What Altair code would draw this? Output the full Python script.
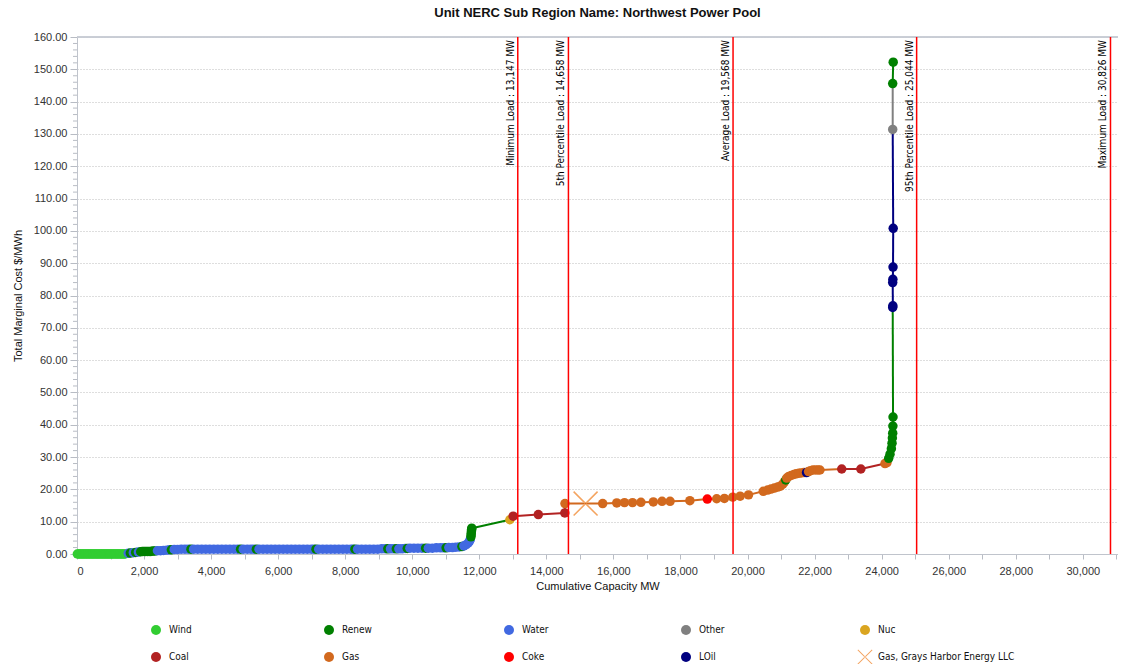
import altair as alt
import pandas as pd

TITLE = "Unit NERC Sub Region Name: Northwest Power Pool"
X_TITLE = "Cumulative Capacity MW"
Y_TITLE = "Total Marginal Cost $/MWh"

legend_names = ["Wind", "Renew", "Water", "Other", "Nuc",
                "Coal", "Gas", "Coke", "LOil", "Gas, Grays Harbor Energy LLC"]
legend_colors = ["#32CD32", "#008000", "#4169E1", "#808080", "#DAA520",
                 "#B22222", "#D2691E", "#FF0000", "#000080", "#F4A460"]
X_PATH = ("M-1.5,-1.37L-1.37,-1.5L1.5,1.37L1.37,1.5Z"
          "M1.5,-1.37L1.37,-1.5L-1.5,1.37L-1.37,1.5Z")
legend_shapes = ["circle"] * 9 + [X_PATH]

# ---- wind block ----
wind_mw = [10, 48, 85, 122, 160, 198, 235, 272, 310, 348,
           385, 422, 460, 498, 535, 572, 610, 648, 685, 722,
           760, 798, 835, 872, 910, 948, 985, 1022, 1060, 1098,
           1135, 1172, 1210, 1248, 1285, 1322, 1360, 1400, 1435]
wind_cost = [0.0] * len(wind_mw)
wind_fuel = ["Wind"] * len(wind_mw)

# ---- hydro / renewable block ----
hydro_fuel = ["Water", "Renew", "Water", "Renew", "Water", "Renew", "Renew", "Renew", "Renew", "Renew",
              "Renew", "Renew", "Renew", "Renew", "Water", "Water", "Water", "Water", "Water", "Renew",
              "Water", "Water", "Water", "Water", "Water", "Renew", "Water", "Water", "Water", "Water",
              "Water", "Water", "Water", "Water", "Water", "Water", "Water", "Water", "Renew", "Water",
              "Water", "Water", "Water", "Renew", "Water", "Water", "Water", "Water", "Water", "Water",
              "Water", "Water", "Water", "Water", "Water", "Water", "Water", "Water", "Water", "Renew",
              "Water", "Water", "Water", "Water", "Water", "Water", "Water", "Water", "Water", "Water",
              "Renew", "Water", "Water", "Water", "Water", "Water", "Water", "Water", "Water", "Renew",
              "Water", "Water", "Renew", "Water", "Water", "Water", "Renew", "Water", "Water", "Water",
              "Water", "Renew", "Water", "Water", "Water", "Water", "Water", "Renew", "Water", "Water",
              "Water", "Water", "Renew", "Water", "Water", "Water", "Water", "Water", "Renew", "Renew",
              "Renew", "Renew", "Renew", "Renew"]
hydro_mw = [1530, 1590, 1680, 1750, 1830, 1900, 1950, 2000, 2050, 2100,
            2150, 2200, 2260, 2320, 2400, 2490, 2580, 2680, 2760, 2815,
            2900, 3000, 3110, 3220, 3320, 3400, 3480, 3600, 3720, 3840,
            3960, 4080, 4200, 4320, 4440, 4560, 4680, 4790, 4880, 4960,
            5080, 5190, 5280, 5350, 5430, 5550, 5670, 5790, 5910, 6030,
            6150, 6270, 6390, 6510, 6630, 6750, 6870, 6990, 7070, 7130,
            7210, 7330, 7450, 7570, 7690, 7810, 7930, 8050, 8170, 8240,
            8290, 8370, 8490, 8610, 8730, 8850, 8970, 9090, 9200, 9270,
            9350, 9440, 9525, 9600, 9700, 9790, 9850, 9930, 10050, 10170,
            10290, 10400, 10480, 10600, 10720, 10840, 10940, 11010, 11090, 11200,
            11300, 11400, 11480, 11540, 11610, 11670, 11710, 11730, 11750, 11755,
            11760, 11765, 11770, 11775]
hydro_cost = [0.2, 0.3, 0.4, 0.5, 0.6, 0.7, 0.8, 0.8, 0.8, 0.8,
              0.8, 0.8, 0.9, 0.9, 1.0, 1.0, 1.1, 1.2, 1.3, 1.3,
              1.4, 1.4, 1.5, 1.5, 1.5, 1.5, 1.5, 1.5, 1.5, 1.5,
              1.5, 1.5, 1.5, 1.5, 1.5, 1.5, 1.5, 1.5, 1.5, 1.5,
              1.5, 1.5, 1.5, 1.5, 1.5, 1.5, 1.5, 1.5, 1.5, 1.5,
              1.5, 1.5, 1.5, 1.5, 1.5, 1.5, 1.5, 1.5, 1.5, 1.5,
              1.5, 1.5, 1.5, 1.5, 1.5, 1.5, 1.5, 1.5, 1.5, 1.5,
              1.5, 1.5, 1.5, 1.5, 1.5, 1.5, 1.5, 1.6, 1.6, 1.6,
              1.6, 1.6, 1.6, 1.6, 1.6, 1.7, 1.7, 1.8, 1.8, 1.8,
              1.8, 1.8, 1.8, 1.8, 1.9, 1.9, 1.9, 1.9, 2.0, 2.0,
              2.1, 2.2, 2.3, 2.5, 2.9, 3.4, 4.0, 4.5, 5.3, 5.9,
              6.5, 7.1, 7.6, 8.0]

# ---- thermal block ----
thermal_fuel = ["Nuc", "Coal", "Coal", "Coal", "Gas", "Gas", "Gas", "Gas", "Gas", "Gas",
                "Gas", "Gas", "Gas", "Gas", "Coke", "Gas", "Gas", "Gas", "Gas", "Gas",
                "Gas", "Gas", "Gas", "Gas", "Gas", "Gas", "Gas", "Gas", "Renew", "Gas",
                "Gas", "Gas", "Gas", "Gas", "Gas", "Gas", "Gas", "LOil", "Gas", "Gas",
                "Gas", "Gas", "Gas", "Gas", "Coal", "Coal", "Gas", "Gas"]
thermal_mw = [12910, 13010, 13760, 14550, 14555, 15680, 16100, 16330, 16570, 16820,
              17190, 17450, 17690, 18280, 18800, 19080, 19310, 19560, 19780, 20030,
              20470, 20600, 20700, 20800, 20900, 20980, 21050, 21100, 21140, 21170,
              21230, 21300, 21380, 21450, 21530, 21600, 21680, 21760, 21820, 21880,
              21950, 22030, 22100, 22160, 22810, 23380, 24100, 24160]
thermal_cost = [10.6, 11.7, 12.2, 12.7, 15.6, 15.6, 15.8, 15.9, 15.9, 16.0,
                16.1, 16.3, 16.3, 16.5, 17.0, 17.1, 17.2, 17.6, 17.9, 18.3,
                19.4, 19.8, 20.1, 20.4, 20.7, 21.0, 21.6, 22.3, 22.9, 23.5,
                24.0, 24.3, 24.6, 24.8, 25.0, 25.1, 25.2, 25.2, 25.5, 25.8,
                26.0, 26.0, 26.0, 26.0, 26.3, 26.3, 28.0, 28.3]

# ---- peaking block ----
peak_fuel = ["Renew", "Renew", "Renew", "Renew", "Renew", "Renew", "Renew", "Renew",
             "LOil", "LOil", "LOil", "LOil", "LOil", "LOil", "Other", "Renew", "Renew"]
peak_mw = [24210, 24250, 24290, 24310, 24320, 24330, 24335, 24340,
           24330, 24335, 24330, 24335, 24340, 24345, 24330, 24330, 24345]
peak_cost = [29.6, 30.9, 32.6, 34.3, 35.9, 37.4, 39.6, 42.4,
             76.3, 76.8, 84.0, 85.0, 88.8, 100.8, 131.4, 145.6, 152.2]

# ---- highlighted unit ----
grays_mw = [15170]
grays_cost = [15.6]

# ---- load reference lines ----
load_names = ["Minimum Load", "5th Percentile Load", "Average Load",
              "95th Percentile Load", "Maximum Load"]
load_mw = [13147, 14658, 19568, 25044, 30826]

# ---- axis ticks ----
y_major = [0, 10, 20, 30, 40, 50, 60, 70, 80, 90, 100, 110, 120, 130, 140, 150, 160]
y_minor = [v + d for v in y_major[:-1] for d in (2, 4, 6, 8)]
x_ticks = list(range(0, 31001, 1000))

fuel = wind_fuel + hydro_fuel + thermal_fuel + peak_fuel
mw = wind_mw + hydro_mw + thermal_mw + peak_mw
cost = wind_cost + hydro_cost + thermal_cost + peak_cost
assert len(fuel) == len(mw) == len(cost)

color_of = dict(zip(legend_names, legend_colors))
pts = pd.DataFrame({"mw": mw, "cost": cost, "fuel": fuel, "idx": range(len(mw))})
segs = pd.DataFrame({
    "mw": mw[:-1], "cost": cost[:-1], "mw2": mw[1:], "cost2": cost[1:],
    "col": [color_of[f] for f in fuel[:-1]],
})
grays = pd.DataFrame({"mw": grays_mw, "cost": grays_cost})
loads = pd.DataFrame({"mw": load_mw,
                      "label": [f"{n} : {v:,} MW" for n, v in zip(load_names, load_mw)]})
minor = pd.DataFrame({"cost": y_minor})

W, H = 1041, 517
FONT = "Liberation Sans"
COND = "DejaVu Sans Condensed, Liberation Sans Narrow, Liberation Sans"

xscale = alt.Scale(domain=[0, 31050], nice=False, zero=False)
yscale = alt.Scale(domain=[0, 160], nice=False)

xaxis = alt.Axis(
    title=X_TITLE, values=x_ticks,
    labelExpr="datum.value % 2000 == 0 ? format(datum.value, ',') : ''",
    labelOverlap=False, grid=False, tickSize=5, labelPadding=6, titlePadding=4,
)
yaxis = alt.Axis(
    title=Y_TITLE, values=y_major, format=".2f", labelOverlap=False,
    grid=True, gridDash=[1, 2], gridColor="#bdbdbd",
    tickSize=7, labelPadding=3, titlePadding=10,
)

lines = alt.Chart(segs).mark_rule(strokeWidth=2).encode(
    x=alt.X("mw:Q", scale=xscale, axis=xaxis),
    y=alt.Y("cost:Q", scale=yscale, axis=yaxis),
    x2="mw2:Q", y2="cost2:Q",
    color=alt.Color("col:N", scale=None),
)

leg = alt.Legend(title=None, orient="none", legendX=74, legendY=588, columns=5,
                 direction="horizontal",
                 columnPadding=132, rowPadding=14, symbolSize=100, labelFontSize=10,
                 labelFont=COND, labelOffset=8, symbolStrokeWidth=0, labelColor="#111")

points = alt.Chart(pts).mark_point(filled=True, opacity=1, size=90).encode(
    x=alt.X("mw:Q", axis=xaxis), y=alt.Y("cost:Q", axis=yaxis),
    color=alt.Color("fuel:N", scale=alt.Scale(domain=legend_names, range=legend_colors), legend=leg),
    shape=alt.Shape("fuel:N", scale=alt.Scale(domain=legend_names, range=legend_shapes), legend=leg),
    order=alt.Order("idx:Q"),
)

gh = alt.Chart(grays).mark_point(filled=True, opacity=1, size=278, shape=X_PATH,
                                 color=color_of["Gas, Grays Harbor Energy LLC"]).encode(
    x=alt.X("mw:Q", axis=xaxis), y=alt.Y("cost:Q", axis=yaxis))

# minor ticks on the y axis
minor_ticks = alt.Chart(minor).mark_rule(color="#b8bcc4", strokeWidth=1).encode(
    y=alt.Y("cost:Q", axis=yaxis), x=alt.value(-4), x2=alt.value(0))

vlines = alt.Chart(loads).mark_rule(color="#FF0000", strokeWidth=1.5).encode(
    x=alt.X("mw:Q", axis=xaxis))
vtext = alt.Chart(loads).mark_text(angle=270, align="right", baseline="bottom", dy=-2,
                                   fontSize=10, font=COND, color="#000").encode(
    x=alt.X("mw:Q", axis=xaxis), y=alt.value(3), text="label:N")

frame = alt.Chart(loads).mark_rule(color="#c8ccd4", strokeWidth=1).encode(
    x=alt.value(0), x2=alt.value(W), y=alt.value(0))

chart = alt.layer(frame, lines, gh, points, minor_ticks, vlines, vtext).properties(
    width=W, height=H,
    title=alt.TitleParams(TITLE, fontSize=13, fontWeight="bold", font=FONT,
                          anchor="middle", offset=11, color="#111"),
    autosize=alt.AutoSizeParams(type="none"),
    padding={"left": 69, "top": 29, "right": 0, "bottom": 110},
).configure_view(stroke=None).configure_axis(
    labelFont=FONT, labelFontSize=11, labelColor="#333",
    titleFont=FONT, titleFontSize=11, titleFontWeight="normal", titleColor="#111",
    domainColor="#c0c4cc", tickColor="#b8bcc4",
)

chart.save("out.html", embed_options={"renderer": "svg", "actions": False})
